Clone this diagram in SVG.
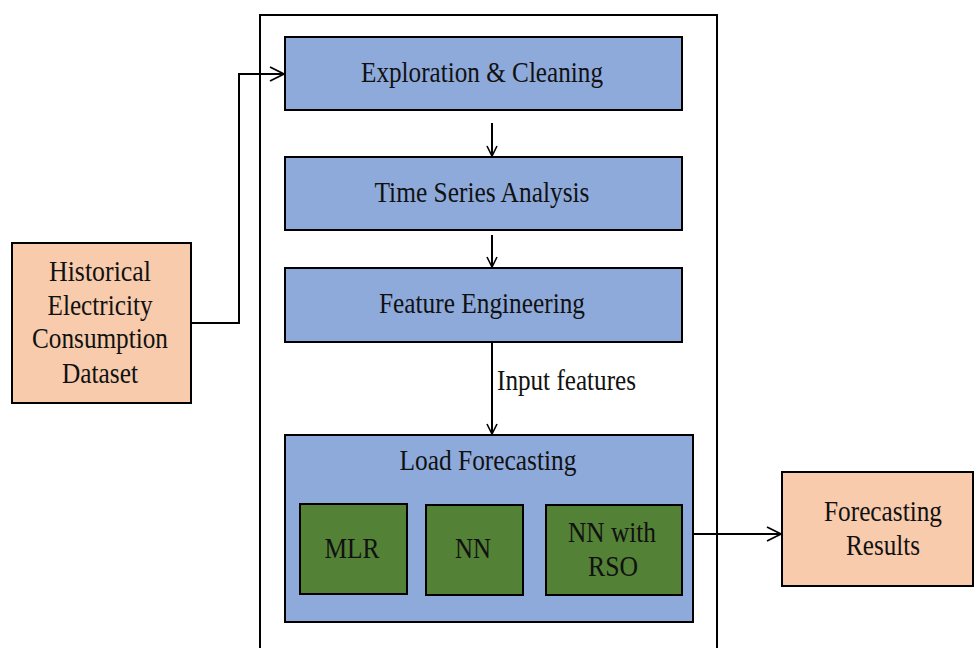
<svg xmlns="http://www.w3.org/2000/svg" width="974" height="648" viewBox="0 0 974 648">
<defs>
<marker id="arr" viewBox="0 0 12 12" refX="11" refY="6" markerWidth="12" markerHeight="12" markerUnits="userSpaceOnUse" orient="auto">
<path d="M1,1 L11,6 L1,11" fill="none" stroke="#000" stroke-width="1.6"/>
</marker>
<marker id="arrL" viewBox="0 0 16 16" refX="15" refY="8" markerWidth="16" markerHeight="16" markerUnits="userSpaceOnUse" orient="auto">
<path d="M1,1 L15,8 L1,15" fill="none" stroke="#000" stroke-width="1.8"/>
</marker>
</defs>
<style>
text{font-family:"Liberation Serif","Times New Roman",serif;font-size:29px;fill:#111;text-anchor:middle}
.blue{fill:#8EAADB;stroke:#000;stroke-width:2}
.peach{fill:#F7CBAC;stroke:#000;stroke-width:2}
.green{fill:#538135;stroke:#000;stroke-width:2}
.ln{fill:none;stroke:#000;stroke-width:2}
</style>
<rect width="974" height="648" fill="#fff"/>
<g id="container"><path class="ln" d="M260,648 V15 H717 V648"/></g>
<g id="historical"><rect class="peach" x="12" y="243" width="179" height="160"/>
<text x="100" y="281" textLength="102" lengthAdjust="spacingAndGlyphs">Historical</text>
<text x="100" y="315" textLength="105" lengthAdjust="spacingAndGlyphs">Electricity</text>
<text x="100" y="348" textLength="136" lengthAdjust="spacingAndGlyphs">Consumption</text>
<text x="100" y="383" textLength="76" lengthAdjust="spacingAndGlyphs">Dataset</text></g>
<g id="exploration"><rect class="blue" x="285" y="37" width="397" height="73"/><text x="482" y="82" textLength="242" lengthAdjust="spacingAndGlyphs">Exploration &amp; Cleaning</text></g>
<g id="timeseries"><rect class="blue" x="285" y="157" width="397" height="73"/><text x="482" y="202" textLength="215" lengthAdjust="spacingAndGlyphs">Time Series Analysis</text></g>
<g id="feature"><rect class="blue" x="285" y="268" width="397" height="74"/><text x="482" y="313" textLength="206" lengthAdjust="spacingAndGlyphs">Feature Engineering</text></g>
<g id="loadforecasting"><rect class="blue" x="285" y="435" width="408" height="187"/><text x="488" y="470" textLength="177" lengthAdjust="spacingAndGlyphs">Load Forecasting</text>
<g id="mlr"><rect class="green" x="300" y="504" width="107" height="90"/><text x="352" y="558" textLength="55" lengthAdjust="spacingAndGlyphs">MLR</text></g>
<g id="nn"><rect class="green" x="426" y="505" width="97" height="90"/><text x="473" y="558" textLength="36" lengthAdjust="spacingAndGlyphs">NN</text></g>
<g id="nnrso"><rect class="green" x="546" y="505" width="136" height="90"/><text x="612" y="542" textLength="88" lengthAdjust="spacingAndGlyphs">NN with</text><text x="613" y="576" textLength="50" lengthAdjust="spacingAndGlyphs">RSO</text></g>
</g>
<g id="results"><rect class="peach" x="782" y="472" width="191" height="114"/><text x="883" y="521" textLength="118" lengthAdjust="spacingAndGlyphs">Forecasting</text><text x="883" y="555" textLength="74" lengthAdjust="spacingAndGlyphs">Results</text></g>
<g id="connectors">
<path class="ln" d="M191,323 H239 V74 H284" marker-end="url(#arrL)"/>
<path class="ln" d="M492,123 V156" marker-end="url(#arr)"/>
<path class="ln" d="M492,235 V267" marker-end="url(#arr)"/>
<path class="ln" d="M492,342 V434" marker-end="url(#arr)"/>
<path class="ln" d="M693,534 H781" marker-end="url(#arrL)"/>
<text x="497" y="390" style="text-anchor:start" textLength="139" lengthAdjust="spacingAndGlyphs">Input features</text>
</g>
</svg>
